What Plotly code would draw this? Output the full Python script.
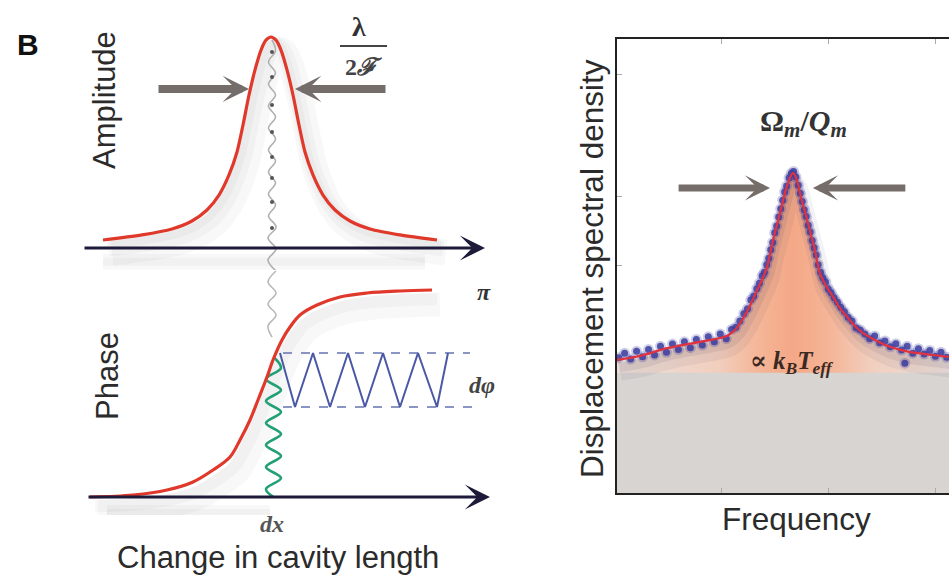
import plotly.graph_objects as go

W, H = 949, 578

# ---------------- Left panel data (schematic) ----------------
# cavity length change (arb. units, 0 = resonance)
amp_x = [-16.8, -12.9, -9.9, -7.9, -6.4, -5.2, -4.2, -3.4, -2.8, -2.2, -1.6, -1.0, -0.5, 0.0,
         0.5, 1.0, 1.6, 2.2, 2.8, 3.4, 4.2, 5.2, 6.4, 7.9, 9.9, 12.9, 16.6]
amp_y = [0.038, 0.062, 0.090, 0.128, 0.180, 0.251, 0.346, 0.455, 0.583, 0.725, 0.844, 0.938, 0.985, 1.0,
         0.985, 0.938, 0.844, 0.725, 0.583, 0.455, 0.346, 0.251, 0.180, 0.128, 0.090, 0.062, 0.038]

phase_x = [-18.1, -13.8, -10.4, -7.8, -5.8, -4.1, -3.1, -2.1, -1.3, -0.4, 0.2, 1.1, 1.9, 2.9,
           4.6, 6.9, 9.6, 12.9, 16.1]
phase_y = [0.0, 0.030, 0.105, 0.226, 0.406, 0.602, 0.857, 1.158, 1.459, 1.805, 2.060, 2.361, 2.556, 2.737,
           2.887, 3.008, 3.068, 3.098, 3.113]

# gray (incoming) modulation, turning points
wave_amp_y = [0.986, 0.934, 0.882, 0.829, 0.777, 0.725, 0.673, 0.621, 0.569, 0.517, 0.464, 0.412,
              0.360, 0.308, 0.256, 0.204, 0.152, 0.100, 0.047, -0.005, -0.057, -0.109]
wave_amp_x = [0.1, 0.45, -0.25, 0.45, -0.25, 0.45, -0.25, 0.45, -0.25, 0.45, -0.25, 0.45,
              -0.25, 0.45, -0.25, 0.45, -0.25, 0.5, -0.3, 0.5, -0.3, 0.5]
wave_dot_y = [0.929, 0.810, 0.678, 0.550, 0.431, 0.332, 0.218, 0.095]
wave_dot_x = [0.1] * len(wave_dot_y)
wave_ph_y = [3.398, 3.233, 3.068, 2.902, 2.737, 2.571, 2.406]
wave_ph_x = [0.5, -0.3, 0.5, -0.3, 0.5, -0.3, 0.1]

# green displacement dx
green_y = [2.105, 1.940, 1.774, 1.609, 1.444, 1.278, 1.113, 0.947, 0.782, 0.617, 0.451, 0.286, 0.120, 0.0]
green_x = [0.25, 1.0, -0.5, 1.0, -0.5, 1.0, -0.5, 1.0, -0.5, 1.0, -0.5, 1.0, -0.5, 0.25]

# blue phase modulation dphi
blue_x = [0.9, 2.4, 4.2, 5.9, 7.7, 9.4, 11.2, 12.9, 14.7, 16.6, 17.7]
blue_y = [2.165, 1.353, 2.165, 1.353, 2.165, 1.353, 2.165, 1.353, 2.165, 1.353, 2.165]
dash_top_x = [1.2, 19.9]
dash_top_y = [2.165, 2.165]
dash_bot_x = [1.2, 20.4]
dash_bot_y = [1.353, 1.353]

amp_axis = [-18.8, 21.4]
phase_axis = [-18.4, 21.9]
fwhm_level = 0.754
fwhm_left = [-11.4, -2.2]
fwhm_right = [11.6, 2.4]

# ---------------- Right panel data ----------------
fit_f = [0, 6.9, 15.1, 25.0, 33.1, 36.0, 38.0, 40.2, 42.2, 43.8, 45.2, 47.0, 49.1, 50.6, 51.8, 53.0,
         54.2, 55.1, 56.3, 57.5, 58.6, 59.6, 61.1, 63.0, 65.1, 67.0, 69.3, 71.5, 74.1, 78.0, 82.2,
         88.0, 95.2, 100]
fit_p = [29.3, 30.2, 31.9, 33.3, 34.6, 36.3, 38.5, 41.5, 44.7, 47.2, 49.8, 55.7, 61.7, 66.1, 68.9, 70.5,
         68.9, 66.1, 62.8, 59.5, 56.4, 53.5, 48.5, 45.6, 43.2, 40.9, 38.8, 36.9, 35.2, 33.6, 32.2,
         31.1, 30.4, 30.0]

dots_f = [0.5, 2.3, 4.1, 5.9, 7.7, 9.5, 11.3, 13.1, 14.9, 16.7, 18.5, 20.3, 22.1, 23.9, 25.7, 27.5,
          29.3, 31.1, 32.9, 34.5, 35.8, 37.0, 38.2, 39.3, 40.3, 41.2, 42.1, 42.9, 43.7, 44.4, 45.1,
          45.7, 46.3, 46.9, 47.5, 48.1, 48.7, 49.3, 49.9, 50.5, 51.1, 51.8, 52.5, 53.2, 53.9, 54.6,
          55.2, 55.8, 56.4, 57.0, 57.6, 58.2, 58.8, 59.4, 60.0, 60.6, 61.3, 62.0, 62.8, 63.6, 64.5,
          65.4, 66.4, 67.4, 68.5, 69.6, 70.8, 72.0, 73.3, 74.7, 76.1, 77.6, 79.1, 80.7, 82.3, 84.0,
          85.7, 86.7, 87.4, 89.1, 90.8, 92.5, 94.2, 95.9, 97.6, 99.3]
dots_p = [29.8, 30.8, 29.5, 31.2, 30.0, 31.6, 30.4, 32.3, 31.0, 32.8, 31.6, 33.3, 32.0, 33.8, 32.6, 34.4,
          33.3, 35.0, 34.0, 36.0, 36.5, 37.9, 39.5, 40.6, 42.5, 43.4, 45.0, 46.2, 47.8, 48.6, 50.3,
          51.7, 53.6, 55.2, 57.3, 58.8, 60.8, 62.6, 64.5, 66.3, 67.6, 69.4, 70.4, 70.8, 69.6, 67.8,
          66.0, 64.2, 62.4, 60.9, 59.0, 57.5, 55.6, 54.0, 52.4, 50.3, 48.6, 47.4, 46.5, 45.0, 44.1,
          43.0, 42.0, 40.9, 39.9, 38.7, 37.9, 36.4, 35.9, 35.0, 34.0, 34.6, 33.1, 33.5, 32.2, 32.9,
          31.5, 28.6, 32.3, 30.8, 31.8, 30.6, 31.4, 30.1, 31.0, 29.9]

floor_f = [0, 100]
floor_p = [26.5, 26.5]
spec_level = 67.2
spec_left = [18.1, 46.1]
spec_right = [87.3, 59.0]
x_ticks = [31.6, 63.6, 95.8]
y_ticks = [50.2, 65.2, 92.1]

# ---------------- Styles ----------------
RED = "#e0392c"
NAVY = "#1e1b3a"
GRAYA = "#756d69"
TXT = "#2b2b2b"
SANS = "Liberation Sans, Arial, sans-serif"
SERIF = "Liberation Serif, DejaVu Serif, serif"

fig = go.Figure()

def sc(x, y, xa, ya, **kw):
    fig.add_trace(go.Scatter(x=x, y=y, xaxis=xa, yaxis=ya, hoverinfo="skip", showlegend=False, **kw))

SH = "rgba(0,0,0,0.028)"

# amplitude panel
for w, dx, dy in [(26, 0.9, -0.06), (16, 0.6, -0.04), (8, 0.4, -0.025)]:
    sc([v + dx for v in amp_x], [v + dy for v in amp_y], "x", "y", mode="lines",
       line=dict(color=SH, width=w, shape="spline"))
for w in (16, 8):
    sc([amp_axis[0] + 2, amp_axis[1] - 6], [-0.065, -0.065], "x", "y", mode="lines",
       line=dict(color=SH, width=w))
sc(wave_amp_x, wave_amp_y, "x", "y", mode="lines", line=dict(color="#b0b0b0", width=1.6, shape="spline"))
sc(wave_dot_x, wave_dot_y, "x", "y", mode="markers", marker=dict(color="#555", size=4))
sc(amp_x, amp_y, "x", "y", mode="lines", line=dict(color=RED, width=3.2, shape="spline", smoothing=0.8))

# phase panel
for w, dx, dy in [(24, 0.8, -0.22), (12, 0.5, -0.14)]:
    sc([v + dx for v in phase_x], [v + dy for v in phase_y], "x2", "y2", mode="lines",
       line=dict(color=SH, width=w, shape="spline"))
for w in (16, 8):
    sc([phase_axis[0] + 2, phase_axis[1] - 22], [-0.24, -0.24], "x2", "y2", mode="lines",
       line=dict(color=SH, width=w))
sc(wave_ph_x, wave_ph_y, "x2", "y2", mode="lines", line=dict(color="#b8b8b8", width=1.6, shape="spline"))
sc(dash_top_x, dash_top_y, "x2", "y2", mode="lines", line=dict(color="#6573b0", width=1.5, dash="dash"))
sc(dash_bot_x, dash_bot_y, "x2", "y2", mode="lines", line=dict(color="#6573b0", width=1.5, dash="dash"))
sc(blue_x, blue_y, "x2", "y2", mode="lines", line=dict(color="#4a58a6", width=2))
sc(green_x, green_y, "x2", "y2", mode="lines", line=dict(color="#22a075", width=2.6, shape="spline"))
sc(phase_x, phase_y, "x2", "y2", mode="lines", line=dict(color=RED, width=3.2, shape="spline"))

# spectrum panel
sc(fit_f, fit_p, "x3", "y3", mode="lines", line=dict(width=0, shape="spline"), fill="tozeroy",
   fillgradient=dict(type="horizontal", colorscale=[[0, "#ece0da"], [0.3, "#f1cfbf"], [0.43, "#f5b597"],
                                                      [0.53, "#f4a887"], [0.64, "#f5b597"], [0.77, "#f1cfbf"],
                                                      [1, "#ece0da"]]))
sc(floor_f, floor_p, "x3", "y3", mode="lines", line=dict(width=0), fill="tozeroy", fillcolor="#d8d4d1")
for w, dx, dy, a in [(18, 1.0, -2.6, 0.06), (10, 0.6, -1.6, 0.09)]:
    sc([v + dx for v in fit_f], [v + dy for v in fit_p], "x3", "y3", mode="lines",
       line=dict(color=f"rgba(50,40,70,{a})", width=w, shape="spline"))
sc(dots_f, dots_p, "x3", "y3", mode="markers", marker=dict(color="rgba(59,60,158,0.25)", size=11))
sc(dots_f, dots_p, "x3", "y3", mode="markers", marker=dict(color="#3b3c9e", size=7, opacity=0.85))
sc(fit_f, fit_p, "x3", "y3", mode="lines", line=dict(color="#e2323e", width=2.2, shape="spline", smoothing=0.7))

hidden = dict(visible=False, showgrid=False, zeroline=False)
lx_dom = [80 / W, 500 / W]
lx_rng = [-19.1, 22.9]

def P(px, py):
    return px / W, 1 - py / H

annotations = []

def text(px, py, t, size, font=SANS, color=TXT, angle=0):
    x, y = P(px, py)
    annotations.append(dict(x=x, y=y, xref="paper", yref="paper", text=t, showarrow=False,
                            textangle=angle, xanchor="center", yanchor="middle",
                            font=dict(family=font, size=size, color=color)))

def arrow(x0, x1, y, xr, yr, width, size, color):
    annotations.append(dict(x=x1, y=y, ax=x0, ay=y, xref=xr, yref=yr, axref=xr, ayref=yr, text="",
                            showarrow=True, arrowhead=3, arrowsize=size, arrowwidth=width,
                            arrowcolor=color))

arrow(amp_axis[0], amp_axis[1], 0, "x", "y", 3, 1.4, NAVY)
arrow(phase_axis[0], phase_axis[1], 0, "x2", "y2", 3, 1.4, NAVY)
arrow(fwhm_left[0], fwhm_left[1], fwhm_level, "x", "y", 8, 0.55, GRAYA)
arrow(fwhm_right[0], fwhm_right[1], fwhm_level, "x", "y", 8, 0.55, GRAYA)
arrow(spec_left[0], spec_left[1], spec_level, "x3", "y3", 7, 0.6, GRAYA)
arrow(spec_right[0], spec_right[1], spec_level, "x3", "y3", 7, 0.6, GRAYA)

text(28, 44, "<b>B</b>", 30, color="#111")
text(105, 100, "Amplitude", 31, angle=-90)
text(107, 376, "Phase", 31, angle=-90)
text(278, 557, "Change in cavity length", 31)
text(272, 524, "<b><i>dx</i></b>", 24, font=SERIF, color="#555")
text(484, 292, "<b><i>π</i></b>", 24, font=SERIF, color="#333")
text(482, 385, "<b><i>dφ</i></b>", 24, font=SERIF, color="#444")
text(359, 26, "<b>λ</b>", 28, font=SERIF, color="#333")
text(364, 67, "<b>2<i>ℱ</i></b>", 24, font=SERIF, color="#444")
text(592, 269, "Displacement spectral density", 31.5, angle=-90)
text(796, 519, "Frequency", 31.5)
text(803, 123, "<b>Ω<sub><i>m</i></sub>/<i>Q</i><sub><i>m</i></sub></b>", 30, font=SERIF, color="#333")
text(792, 362, "<b>∝ <i>k</i><sub><i>B</i></sub><i>T</i><sub><i>eff</i></sub></b>", 25, font=SERIF, color="#3b2a22")

fig.update_layout(
    width=W, height=H, margin=dict(l=0, r=0, t=0, b=0),
    paper_bgcolor="white", plot_bgcolor="rgba(0,0,0,0)", showlegend=False,
    xaxis=dict(domain=lx_dom, range=lx_rng, **hidden),
    yaxis=dict(domain=[1 - 270 / H, 1 - 20 / H], range=[-0.10427, 1.08057], **hidden),
    xaxis2=dict(domain=lx_dom, range=lx_rng, anchor="y2", **hidden),
    yaxis2=dict(domain=[1 - 515 / H, 1 - 270 / H], range=[-0.2707, 3.4135], anchor="x2", **hidden),
    xaxis3=dict(domain=[617 / W, 1.0], range=[0, 100], anchor="y3", showgrid=False, zeroline=False,
                showline=True, linecolor="#222", linewidth=2, mirror="ticks", ticks="inside",
                tickvals=x_ticks, ticklen=5, tickcolor="#aaa", showticklabels=False),
    yaxis3=dict(domain=[1 - 493 / H, 1 - 39 / H], range=[0, 100], anchor="x3", showgrid=False,
                zeroline=False, showline=True, linecolor="#222", linewidth=2, ticks="inside",
                tickvals=y_ticks, ticklen=5, tickcolor="#aaa", showticklabels=False),
    shapes=[dict(type="line", xref="x", yref="y", x0=6.9, x1=11.6, y0=0.957, y1=0.957,
                 line=dict(color="#444", width=2))],
    annotations=annotations,
)

fig.write_html("out.html", config={"displayModeBar": False, "staticPlot": True},
               post_script="document.body.style.margin='0px';document.body.style.overflow='hidden';")
